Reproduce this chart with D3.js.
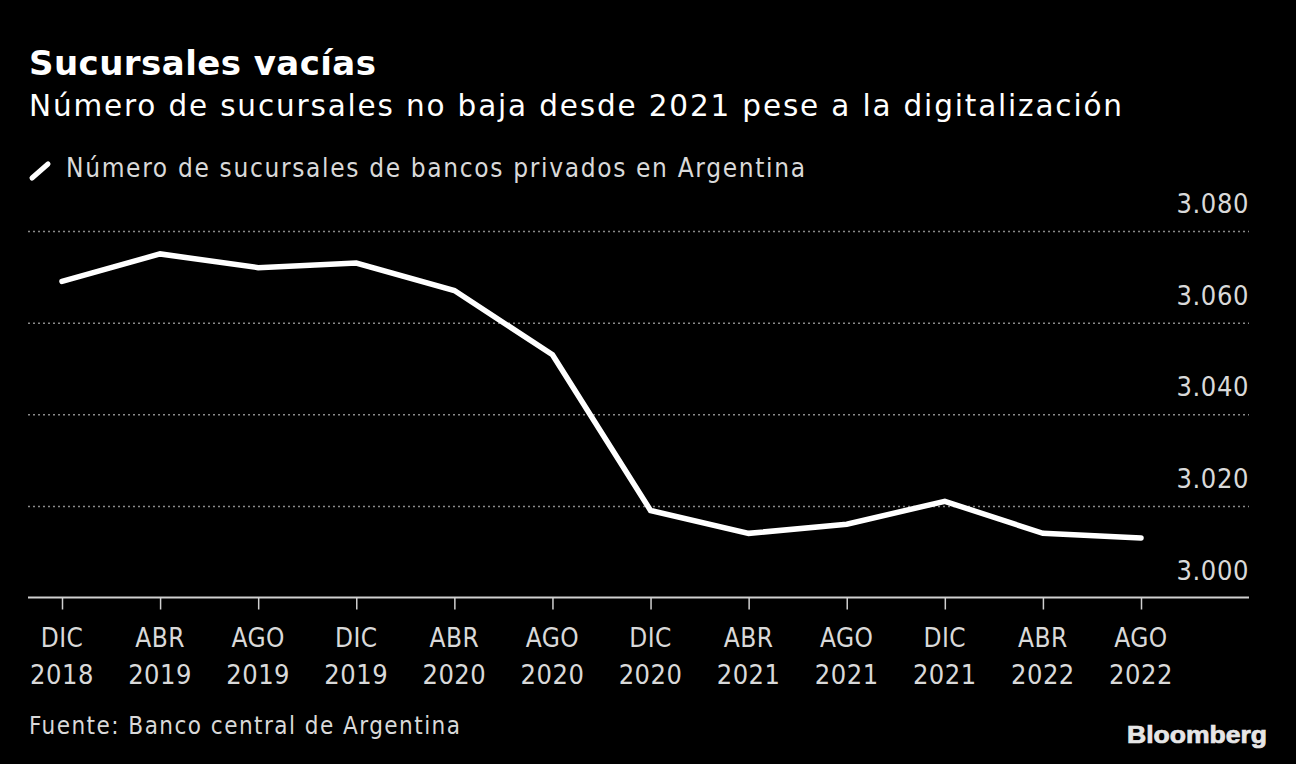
<!DOCTYPE html>
<html><head><meta charset="utf-8">
<script src="https://cdn.jsdelivr.net/npm/d3@7"></script>
<style>
html,body{margin:0;padding:0;background:#000;}
svg{display:block;}
text{font-family:"DejaVu Sans Condensed","DejaVu Sans",sans-serif;}
</style></head>
<body>
<svg id="c" width="1296" height="764"></svg>
<script>
const months = ["DIC","ABR","AGO","DIC","ABR","AGO","DIC","ABR","AGO","DIC","ABR","AGO"];
const years  = ["2018","2019","2019","2019","2020","2020","2020","2021","2021","2021","2022","2022"];
const sucursales = [3069,3075,3072,3073,3067,3053,3019,3014,3016,3021,3014,3013];
const yTicks = [3000,3020,3040,3060,3080];

const svg = d3.select("#c");
svg.append("rect").attr("width",1296).attr("height",764).attr("fill","#000");

const keys = months.map((m,i)=>i);
const x = d3.scalePoint().domain(keys).range([62,1141]);
const y = d3.scaleLinear().domain([3000,3080]).range([597.5,231]);
const loc = d3.formatLocale({decimal:",",thousands:".",grouping:[3],currency:["$",""]});
const fmt = loc.format(",d");

// title
svg.append("text").attr("x",29).attr("y",75).attr("fill","#fff")
  .style("font-family","'DejaVu Sans',sans-serif")
  .attr("font-size",34).attr("font-weight","bold")
  .attr("textLength",347).attr("lengthAdjust","spacing").text("Sucursales vacías");
svg.append("text").attr("x",29).attr("y",116).attr("fill","#fff")
  .style("font-family","'DejaVu Sans',sans-serif")
  .attr("font-size",29.5).attr("textLength",1093).attr("lengthAdjust","spacing")
  .text("Número de sucursales no baja desde 2021 pese a la digitalización");
// legend
svg.append("line").attr("x1",32).attr("y1",178).attr("x2",48).attr("y2",164)
  .attr("stroke","#fff").attr("stroke-width",5).attr("stroke-linecap","round");
svg.append("text").attr("x",66).attr("y",177).attr("fill","#d9d9d9")
  .attr("font-size",26).attr("textLength",739).attr("lengthAdjust","spacing")
  .text("Número de sucursales de bancos privados en Argentina");

// gridlines
const yAxis = d3.axisRight(y).tickValues(yTicks.filter(v=>v>3000)).tickSize(1221).tickFormat("");
svg.append("g").attr("transform","translate(28,0)").call(yAxis)
  .call(g=>g.select(".domain").remove())
  .call(g=>g.selectAll("line").attr("stroke","#8a8a8a").attr("stroke-width",1.5).attr("stroke-dasharray","2,3"));
// y labels
svg.append("g").selectAll("text").data(yTicks).join("text")
  .attr("x",1249).attr("y",d=>y(d)-18).attr("text-anchor","end")
  .attr("fill","#d9d9d9").attr("font-size",27).attr("letter-spacing",0.6).text(d=>fmt(d));

// x axis
const xAxis = d3.axisBottom(x).tickSize(12).tickFormat("");
svg.append("g").attr("transform",`translate(0,${y(3000)})`).call(xAxis)
  .call(g=>g.select(".domain").attr("d","M28,0H1249").attr("stroke","#d0d0d0").attr("stroke-width",2))
  .call(g=>g.selectAll(".tick line").attr("stroke","#d0d0d0").attr("stroke-width",1.5));
const xl = svg.append("g").selectAll("g").data(keys).join("g");
xl.append("text").attr("x",d=>x(d)).attr("y",647).attr("text-anchor","middle")
  .attr("fill","#d9d9d9").attr("font-size",26).attr("letter-spacing",0.5).text(d=>months[d]);
xl.append("text").attr("x",d=>x(d)).attr("y",684).attr("text-anchor","middle")
  .attr("fill","#d9d9d9").attr("font-size",27).attr("letter-spacing",0.5).text(d=>years[d]);

// line
const line = d3.line().x((d,i)=>x(i)).y(d=>y(d));
svg.append("path").datum(sucursales).attr("d",line).attr("fill","none")
  .attr("stroke","#fff").attr("stroke-width",5.5).attr("stroke-linejoin","miter").attr("stroke-linecap","round");

// footer
svg.append("text").attr("x",29).attr("y",734).attr("fill","#d9d9d9")
  .attr("font-size",24).attr("textLength",431).attr("lengthAdjust","spacing")
  .text("Fuente: Banco central de Argentina");
svg.append("text").attr("x",1127).attr("y",743).attr("fill","#e6e6e6")
  .attr("stroke","#e6e6e6").attr("stroke-width",0.7)
  .style("font-family","'Liberation Sans',Arial,sans-serif")
  .attr("font-size",23).attr("font-weight","bold")
  .attr("textLength",140).attr("lengthAdjust","spacingAndGlyphs").text("Bloomberg");
</script>
</body></html>
